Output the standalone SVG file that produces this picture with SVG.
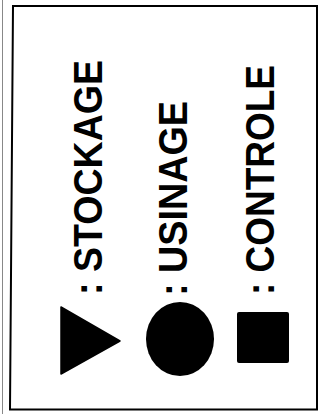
<svg xmlns="http://www.w3.org/2000/svg" width="321" height="414" viewBox="0 0 321 414">
  <style>
    .lbl { font-family: "Liberation Sans", Arial, sans-serif; font-weight: bold; font-size: 40px; fill: #000; }
    .sym { fill: #000; }
  </style>
  <rect width="321" height="414" fill="#fff"/>
  <g id="frame">
    <line x1="2.5" y1="0" x2="2.5" y2="414" stroke="#888" stroke-width="1"/>
    <polygon points="13,6 317,6 317,409.5 10,409.5" fill="none" stroke="#000" stroke-width="2"/>
  </g>
  <g id="stockage">
    <polygon class="sym" points="61,307 120,341 61,374" stroke="#000" stroke-width="1.5" stroke-linejoin="round"/>
    <text class="lbl" transform="translate(102,295) rotate(-90)" textLength="235" lengthAdjust="spacingAndGlyphs">: STOCKAGE</text>
  </g>
  <g id="usinage">
    <ellipse class="sym" cx="180" cy="339" rx="34" ry="37"/>
    <text class="lbl" transform="translate(187,296) rotate(-90)" textLength="195" lengthAdjust="spacingAndGlyphs">: USINAGE</text>
  </g>
  <g id="controle">
    <rect class="sym" x="237" y="312" width="52" height="51" rx="2"/>
    <text class="lbl" transform="translate(274,295) rotate(-90)" textLength="230" lengthAdjust="spacingAndGlyphs">: CONTROLE</text>
  </g>
  <g id="connectors"/>
</svg>
